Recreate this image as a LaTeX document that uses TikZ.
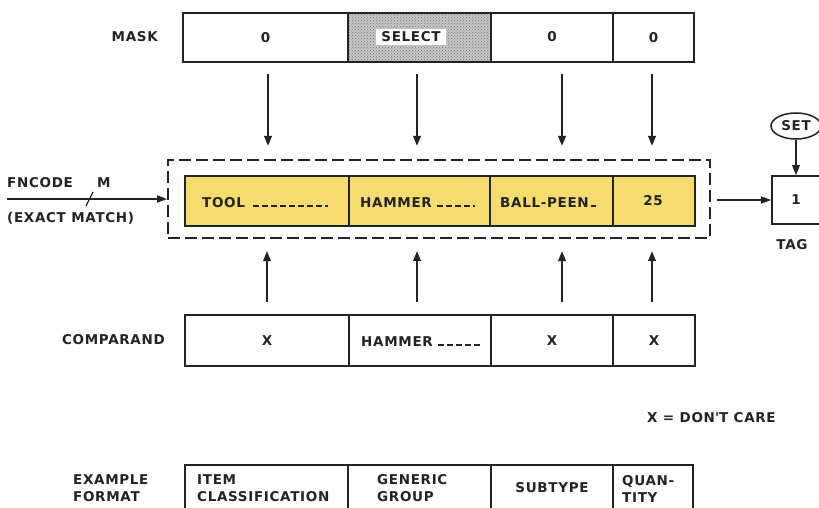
\documentclass[tikz,border=0pt]{standalone}
\usepackage{fontspec}
\setmainfont{DejaVu Sans}[LetterSpace=5]
\usetikzlibrary{arrows.meta,shapes.geometric,patterns}
\definecolor{yel}{RGB}{246,220,110}
\definecolor{ink}{RGB}{35,35,35}
\begin{document}
\begin{tikzpicture}[x=1pt,y=-1pt,
  every node/.style={font=\fontsize{13.5}{17}\selectfont\bfseries, text=ink},
  cell/.style={draw=ink, line width=1.6pt, inner sep=0pt, anchor=center},
  mrow/.style={cell, minimum height=49pt},
  yrow/.style={cell, minimum height=50pt, fill=yel},
  crow/.style={cell, minimum height=51pt},
  frow/.style={cell, minimum height=46pt},
  lab/.style={inner sep=0pt},
  dashline/.style={draw=ink, line width=1.8pt, dash pattern=on 5.5pt off 3.5pt},
  arr/.style={draw=ink, line width=2pt, -{Triangle[length=10pt,width=7.5pt]}},
  thinarr/.style={draw=ink, line width=1.3pt, -{Triangle[length=10pt,width=7pt]}}
]
\useasboundingbox (0,0) rectangle (819,508);

% MASK row
\node[lab, anchor=east] (masklab) at (158,37) {MASK};
\node[mrow, minimum width=165pt] (m1) at (265.5,37.5) {0};
\fill[black!22] (348,13) rectangle (491,62);
\fill[pattern=crosshatch dots, pattern color=black!55] (348,13) rectangle (491,62);
\node[mrow, minimum width=143pt] (m2) at (419.5,37.5) {};
\node[fill=white, inner xsep=5pt, inner ysep=3pt] (sel) at (411,37) {SELECT};
\node[mrow, minimum width=122pt] (m3) at (552,37.5) {};
\node[lab] (m3t) at (552,37) {0};
\node[mrow, minimum width=81pt] (m4) at (653.5,37.5) {0};

% register (dashed)
\node[draw=ink, dash pattern=on 12pt off 5pt, line width=1.6pt, minimum width=542pt, minimum height=78pt, inner sep=0pt] (reg) at (439,199) {};
\node[yrow, minimum width=164pt] (y1) at (267,201) {};
\node[yrow, minimum width=141pt] (y2) at (419.5,201) {};
\node[yrow, minimum width=123pt] (y3) at (551.5,201) {};
\node[yrow, minimum width=82pt] (y4) at (654,201) {};
\node[lab, anchor=base west] (t1) at (202,207) {TOOL};
\draw[dashline] (t1.base east) ++(8,-1) -- ++(75,0);
\node[lab, anchor=base west] (t2) at (360,207) {HAMMER};
\draw[dashline] (t2.base east) ++(5,-1) -- ++(38,0);
\node[lab, anchor=base west] (t3) at (500,207) {BALL-PEEN};
\draw[dashline] (t3.base east) ++(2,-1) -- ++(6,0);
\node[lab] (t4) at (653,201) {25};

% comparand row
\node[lab, anchor=east] (complab) at (165,340) {COMPARAND};
\node[crow, minimum width=164pt] (c1) at (267,340.5) {X};
\node[crow, minimum width=142pt] (c2) at (420,340.5) {};
\node[lab, anchor=base west] (c2t) at (361,346) {HAMMER};
\draw[dashline] (c2t.base east) ++(5,-1) -- ++(42,0);
\node[crow, minimum width=122pt] (c3) at (552,340.5) {X};
\node[crow, minimum width=82pt] (c4) at (654,340.5) {X};

% arrows mask -> register
\coordinate (d1s) at (268,74);  \coordinate (d1e) at (268,146);
\coordinate (d2s) at (417,74);  \coordinate (d2e) at (417,146);
\coordinate (d3s) at (562,74);  \coordinate (d3e) at (562,146);
\coordinate (d4s) at (652,74);  \coordinate (d4e) at (652,146);
\draw[arr] (d1s) -- (d1e);
\draw[arr] (d2s) -- (d2e);
\draw[arr] (d3s) -- (d3e);
\draw[arr] (d4s) -- (d4e);

% arrows comparand -> register
\coordinate (u1s) at (267,302);  \coordinate (u1e) at (267,251);
\coordinate (u2s) at (417,302);  \coordinate (u2e) at (417,251);
\coordinate (u3s) at (562,302);  \coordinate (u3e) at (562,251);
\coordinate (u4s) at (652,302);  \coordinate (u4e) at (652,251);
\draw[arr] (u1s) -- (u1e);
\draw[arr] (u2s) -- (u2e);
\draw[arr] (u3s) -- (u3e);
\draw[arr] (u4s) -- (u4e);

% function code input
\node[lab, anchor=west] (fn) at (7,183) {FNCODE};
\node[lab, anchor=west] (mm) at (97,183) {M};
\node[lab, anchor=west] (em) at (7,218) {(EXACT MATCH)};
\coordinate (fnin) at (7,199);
\draw[thinarr, line width=1.5pt] (fnin) -- (reg.west);
\coordinate (sl1) at (86,206); \coordinate (sl2) at (93,192);
\draw[draw=ink, line width=1.3pt] (sl1) -- (sl2);

% tag
\node[cell, minimum width=48pt, minimum height=48pt] (tag) at (796,200) {1};
\node[lab] (taglab) at (792,245) {TAG};
\node[draw=ink, line width=1.5pt, ellipse, minimum width=50pt, minimum height=26pt, inner sep=0pt] (set) at (796,126) {SET};
\draw[arr, line width=1.7pt] (set.south) -- (tag.north);
\coordinate (regout) at (717,200);
\draw[thinarr] (regout) -- (tag.west);

% legend
\node[lab, anchor=west] (dc) at (647,418) {X = DON\textquotesingle T CARE};

% example format
\node[lab, anchor=west, align=left] (exlab) at (73,488.5) {EXAMPLE\\FORMAT};
\node[frow, minimum width=163pt] (f1) at (266.5,488) {};
\node[frow, minimum width=143pt] (f2) at (419.5,488) {};
\node[frow, minimum width=122pt] (f3) at (552,488) {SUBTYPE};
\node[frow, minimum width=80pt] (f4) at (653,488) {};
\node[lab, anchor=west, align=left] (f1t) at (197,488.5) {ITEM\\CLASSIFICATION};
\node[lab, anchor=west, align=left] (f2t) at (377,488.5) {GENERIC\\GROUP};
\node[lab, anchor=west, align=left] (f4t) at (622,488.5) {QUAN-\\TITY};
\end{tikzpicture}
\end{document}
